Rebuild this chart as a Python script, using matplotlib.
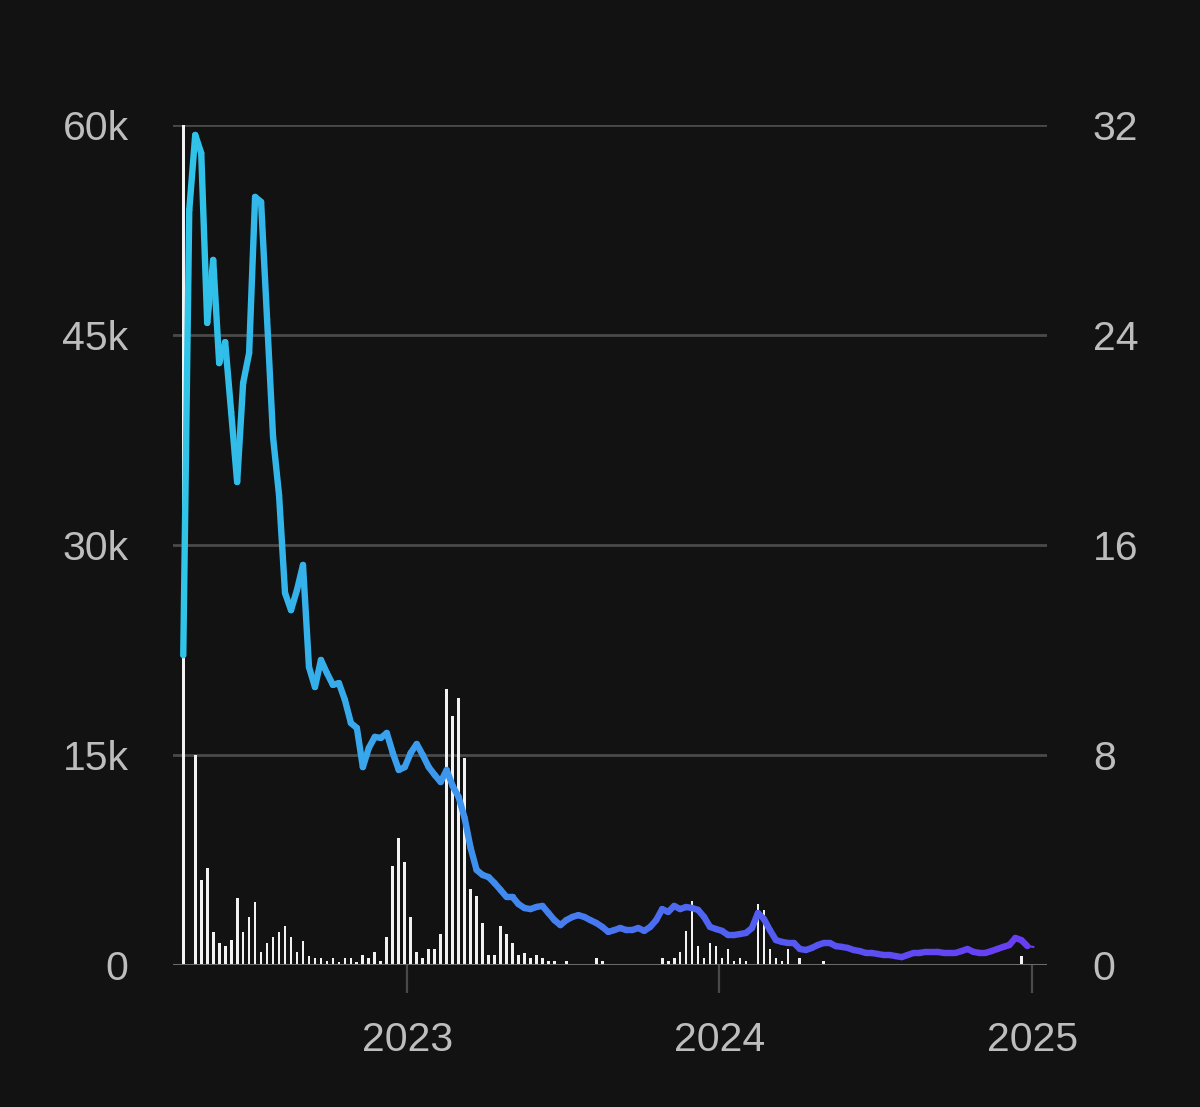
import numpy as np
import pandas as pd
import matplotlib
matplotlib.use("Agg")
import matplotlib.pyplot as plt
import matplotlib.dates as mdates
from matplotlib.collections import LineCollection
from matplotlib.colors import LinearSegmentedColormap

# ---------------- data ----------------
start_date = "2022-04-14"
n_weeks = 143
weeks = pd.date_range(start_date, periods=n_weeks, freq="7D")

# weekly volume (left axis, bars)
volume = [60000, 0, 15000, 6070, 6900, 2360, 1570, 1360, 1790, 4800,
          2360, 3430, 4500, 930, 1570, 2000, 2360, 2800, 2000, 930,
          1710, 640, 500, 500, 300, 500, 250, 500, 500, 250,
          700, 500, 930, 300, 2000, 7100, 9050, 7360, 3450, 930,
          500, 1140, 1140, 2200, 19700, 17800, 19050, 14800, 5400, 4900,
          3000, 700, 700, 2800, 2200, 1570, 700, 860, 500, 700,
          500, 300, 300, 0, 300, 0, 0, 0, 0, 500,
          300, 0, 0, 0, 0, 0, 0, 0, 0, 0,
          500, 300, 500, 930, 2400, 4550, 1360, 500, 1570, 1360,
          500, 1140, 300, 500, 300, 0, 4360, 3900, 1140, 500,
          300, 1140, 0, 500, 0, 0, 0, 300, 0, 0,
          0, 0, 0, 0, 0, 0, 0, 0, 0, 0,
          0, 0, 0, 0, 0, 0, 0, 0, 0, 0,
          0, 0, 0, 0, 0, 0, 0, 0, 0, 0,
          640, 0, 0]

# weekly price (right axis, line)
price = [11.8, 28.76, 31.62, 30.93, 24.46, 26.86, 22.93, 23.73, 21.07, 18.40,
         22.17, 23.31, 29.26, 29.07, 24.6, 20.11, 17.9, 14.17, 13.52, 14.29,
         15.24, 11.35, 10.59, 11.62, 11.12, 10.67, 10.74, 10.10, 9.22, 9.03,
         7.54, 8.27, 8.69, 8.65, 8.84, 8.08, 7.43, 7.54, 8.08, 8.42,
         8.0, 7.54, 7.24, 6.97, 7.43, 6.82, 6.40, 5.6, 4.46, 3.62,
         3.43, 3.35, 3.12, 2.86, 2.59, 2.59, 2.32, 2.17, 2.13, 2.21,
         2.25, 1.98, 1.71, 1.52, 1.71, 1.83, 1.90, 1.83, 1.71, 1.60,
         1.45, 1.26, 1.33, 1.41, 1.33, 1.33, 1.41, 1.30, 1.45, 1.71,
         2.13, 2.02, 2.25, 2.13, 2.21, 2.17, 2.10, 1.83, 1.45, 1.37,
         1.30, 1.14, 1.14, 1.18, 1.22, 1.41, 1.98, 1.75, 1.33, 0.95,
         0.88, 0.84, 0.84, 0.61, 0.57, 0.65, 0.76, 0.84, 0.84, 0.72,
         0.69, 0.65, 0.57, 0.53, 0.46, 0.46, 0.42, 0.38, 0.38, 0.34,
         0.30, 0.38, 0.46, 0.46, 0.50, 0.50, 0.50, 0.46, 0.46, 0.46,
         0.53, 0.61, 0.50, 0.46, 0.46, 0.53, 0.61, 0.69, 0.76, 1.03,
         0.95, 0.72, 0.69]

left_ticks = [0, 15000, 30000, 45000, 60000]
left_labels = ["0", "15k", "30k", "45k", "60k"]
right_ticks = [0, 8, 16, 24, 32]
right_labels = ["0", "8", "16", "24", "32"]
x_ticks = ["2023-01-01", "2024-01-01", "2025-01-01"]
x_labels = ["2023", "2024", "2025"]

# ---------------- style ----------------
BG = "#121212"
GRID = "#4a4a4a"
BASE = "#6a6a6a"
TXT = "#bdbdbd"
FONT = "Liberation Sans"
FS = 29.5

fig = plt.figure(figsize=(12, 11.07), dpi=100, facecolor=BG)
ax = fig.add_axes([173 / 1200, 1 - 965 / 1107, (1047 - 173) / 1200, (965 - 125) / 1107])
ax.set_facecolor(BG)
ax2 = ax.twinx()

xd = mdates.date2num(weeks.to_pydatetime())

# gridlines
for t in left_ticks[1:]:
    ax.axhline(t, color=GRID, lw=2.0, zorder=0)
ax.axhline(0, color=BASE, lw=2.2, zorder=3)

# bars
ax.bar(xd, volume, width=3.2, color="#f2f2f2", zorder=2, linewidth=0)

ax.set_xlim(mdates.date2num(pd.Timestamp("2022-04-02")), mdates.date2num(pd.Timestamp("2025-01-18")))
ax.set_ylim(0, 60000)
ax.set_yticks(left_ticks)
ax.set_yticklabels(left_labels)
ax.tick_params(axis="y", length=0, pad=32, labelsize=FS, labelcolor=TXT)
for lab in ax.get_yticklabels():
    lab.set_fontfamily(FONT)

xt = mdates.date2num([pd.Timestamp(d) for d in x_ticks])
ax.set_xticks(xt)
ax.set_xticklabels(x_labels)
ax.tick_params(axis="x", length=20, width=1.6, color=GRID, pad=20, labelsize=FS, labelcolor=TXT)
for lab in ax.get_xticklabels():
    lab.set_fontfamily(FONT)

for s in ax.spines.values():
    s.set_visible(False)
for s in ax2.spines.values():
    s.set_visible(False)

# gradient line
cmap = LinearSegmentedColormap.from_list(
    "grad", ["#2fc4e8", "#37a9ec", "#4286ef", "#4e66f1", "#5a4ff2", "#6a3cf5"])
pts = np.column_stack([xd, price])
segs = np.stack([pts[:-2], pts[1:-1]], axis=1)
xmin, xmax = xd[0], xd[-1]
mid = (segs[:, 0, 0] + segs[:, 1, 0]) / 2
cols = cmap((mid - xmin) / (xmax - xmin))
lc = LineCollection(segs, colors=cols, linewidths=4.6, capstyle="round", joinstyle="round", zorder=4)
ax2.add_collection(lc)
# last (partial) fragment, thin
lastx = [xd[-2] + (xd[-1] - xd[-2]) * 0.45, xd[-1]]
lasty = [price[-2] + (price[-1] - price[-2]) * 0.45, price[-1]]
ax2.plot(lastx, lasty, color=cmap(1.0), lw=1.5, zorder=4)

ax2.set_ylim(0, 32)
ax2.set_yticks(right_ticks)
ax2.set_yticklabels(right_labels)
ax2.tick_params(axis="y", length=0, pad=33, labelsize=FS, labelcolor=TXT)
for lab in ax2.get_yticklabels():
    lab.set_fontfamily(FONT)
ax2.set_xlim(ax.get_xlim())

fig.savefig("out.png", dpi=100, facecolor=BG)
